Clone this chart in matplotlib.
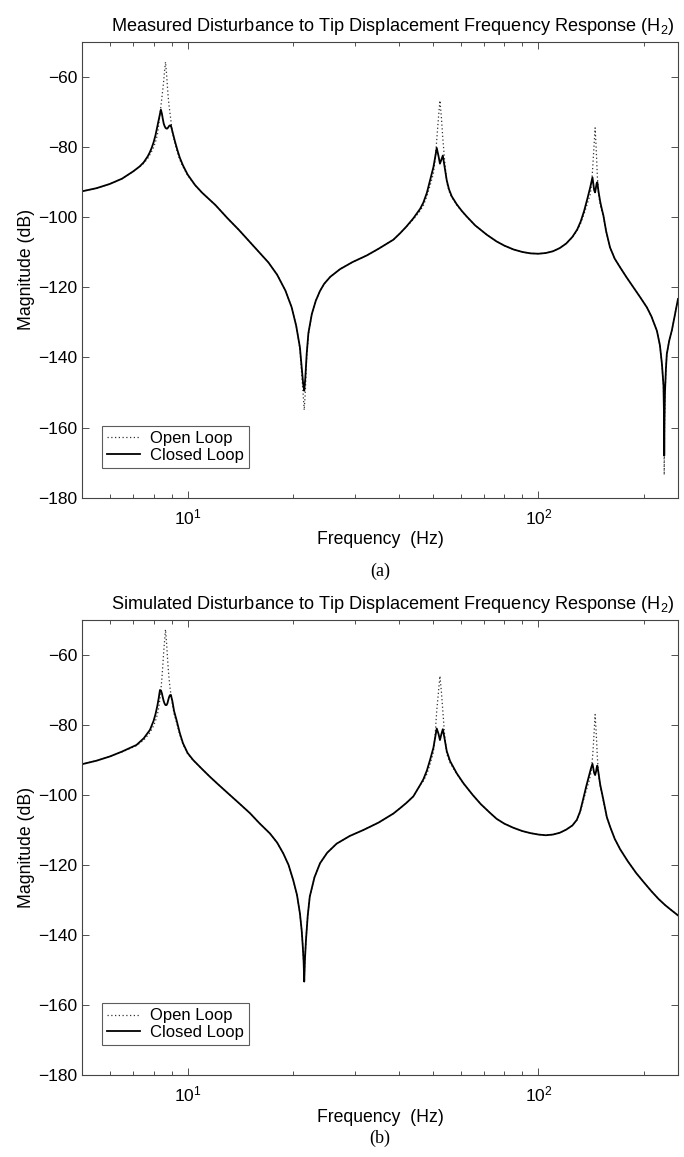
import numpy as np
import matplotlib
matplotlib.use("Agg")
import matplotlib.pyplot as plt
from matplotlib.ticker import LogLocator, FuncFormatter

plt.rcParams['font.family'] = ['Liberation Sans', 'DejaVu Sans']
plt.rcParams['mathtext.fontset'] = 'custom'
plt.rcParams['mathtext.rm'] = 'Liberation Sans'
plt.rcParams['mathtext.it'] = 'Liberation Sans:italic'
plt.rcParams['mathtext.bf'] = 'Liberation Sans:bold'

# ---------------- (a) measured ----------------
freq_a = [5.0, 5.5, 6.0, 6.5, 7.0, 7.3, 7.5, 7.7, 7.8, 7.9, 8.0, 8.1, 8.2, 8.3,
          8.39, 8.45, 8.5, 8.55, 8.6, 8.65, 8.7, 8.75, 8.8, 8.85, 8.9, 8.96, 9.05,
          9.2, 9.35, 9.5, 9.7, 10.0, 10.5, 11.0, 11.5, 12.0, 13.0, 14.0, 15.0, 16.0,
          17.0, 18.0, 19.0, 19.8, 20.4, 20.9, 21.2,
          21.35, 21.5, 21.65, 21.85, 22.1, 22.6, 23.2, 23.85, 24.5, 25.5, 27.2, 29.5,
          32.4, 35.0, 38.6,
          40.3, 42.0, 44.0, 46.0, 47.0, 48.1, 49.1, 50.2, 50.8, 51.3, 51.9, 52.4, 52.9,
          53.4, 54.0, 54.8, 55.6, 56.6,
          58.5, 60.5, 62.5, 66.0, 71.3, 76.0, 80.0, 85.0, 90.0, 95.0, 100.0, 105.0,
          110.0, 115.0, 120.0, 125.0, 129.0, 132.0, 135.0, 138.0, 140.5,
          141.6, 142.6, 143.4, 144.2, 145.1, 146.0, 146.6, 147.2, 148.3, 150.0,
          151.5, 153.2, 156.0, 160.0, 165.0, 171.0, 178.0, 186.6, 195.0, 203.8, 210.0,
          217.7, 222.0, 225.0, 227.3, 228.0, 228.4, 228.8, 229.5, 231.0, 232.3, 236.0,
          240.2, 245.0, 250.0]
closed_a = [-92.6, -91.7, -90.5, -89.0, -86.9, -85.5, -84.3, -82.6, -81.5, -80.2,
            -78.6, -76.6, -74.0, -71.3,
            -69.3, -70.5, -72.0, -73.3, -74.0, -74.5, -74.7, -74.7, -74.4, -74.0,
            -73.8, -73.8, -75.5,
            -78.3, -80.8, -83.0, -85.2, -87.8, -90.8, -93.0, -94.8, -96.5, -100.3,
            -103.6, -106.9, -110.0, -112.9, -116.4, -120.9, -125.7, -131.0, -137.1,
            -144.0,
            -147.5, -149.5, -146.0, -139.0, -133.0, -127.6, -123.8, -121.0, -119.0,
            -117.0, -114.8, -112.8, -110.9, -109.0, -106.4,
            -104.6, -102.7, -100.3, -97.6, -95.8, -93.0, -89.5, -85.7, -82.8, -80.2,
            -82.5, -84.7, -83.5, -82.4, -85.5, -89.5, -92.0, -94.0,
            -96.3, -98.2, -99.8, -102.3, -105.0, -106.9, -108.1, -109.2, -109.9,
            -110.3, -110.4, -110.2, -109.7, -108.8, -107.5, -105.6, -103.5, -101.2,
            -98.2, -94.6, -91.5,
            -90.0, -88.6, -90.5, -92.3, -92.9, -91.3, -90.3, -90.0, -92.5, -95.5,
            -97.5, -99.5, -104.0, -108.6, -111.8, -114.3, -117.0, -120.0, -122.8,
            -125.7, -128.3, -132.4, -136.5, -141.9, -148.0, -156.0, -168.0, -158.0,
            -150.0, -143.0, -139.0, -135.2, -132.2, -127.8, -123.3]
open_a = [-92.6, -91.7, -90.5, -89.0, -86.9, -85.6, -84.6, -83.2, -82.2, -81.2,
          -80.0, -78.5, -76.5, -72.5,
          -68.5, -66.0, -63.5, -61.0, -58.0, -55.7, -58.5, -62.0, -65.5, -68.0,
          -70.0, -72.5, -75.8,
          -78.8, -81.5, -83.6, -85.6, -88.0, -90.9, -93.0, -94.8, -96.5, -100.3,
          -103.6, -106.9, -110.0, -112.9, -116.4, -120.9, -125.7, -131.0, -137.5,
          -146.0,
          -150.5, -155.0, -150.0, -140.0, -133.5, -127.6, -123.8, -121.0, -119.0,
          -117.0, -114.8, -112.8, -110.9, -109.0, -106.4,
          -104.6, -102.8, -100.6, -98.2, -96.6, -94.0, -91.0, -87.5, -83.5, -78.0,
          -71.5, -66.7, -71.5, -77.5, -83.5, -90.0, -92.5, -94.3,
          -96.5, -98.3, -99.9, -102.3, -105.0, -106.9, -108.1, -109.2, -109.9,
          -110.3, -110.4, -110.2, -109.7, -108.8, -107.5, -105.7, -103.8, -101.7,
          -99.0, -96.0, -93.5,
          -91.0, -87.0, -83.0, -79.0, -74.5, -79.5, -83.5, -88.0, -93.0, -96.5,
          -98.0, -99.8, -104.0, -108.6, -111.8, -114.3, -117.0, -120.0, -122.8,
          -125.7, -128.3, -132.4, -136.5, -142.0, -148.5, -158.0, -173.5, -160.0,
          -151.0, -143.5, -139.0, -135.2, -132.2, -127.8, -123.3]

# ---------------- (b) simulated ----------------
freq_b = [5.0, 5.5, 6.0, 6.5, 7.15, 7.5, 7.81, 8.0, 8.1, 8.2, 8.27,
          8.34, 8.4, 8.45, 8.5, 8.55, 8.6, 8.65, 8.71, 8.76, 8.8, 8.85, 8.9, 8.96, 9.05,
          9.15, 9.3, 9.5, 9.7, 10.0, 10.37, 11.0, 11.58, 12.2, 12.9, 14.0, 15.06, 16.0,
          17.17, 18.0, 18.74, 19.4, 20.0, 20.5, 20.9, 21.15, 21.3, 21.42,
          21.5, 21.6, 21.75, 22.0, 22.3, 23.0, 23.85, 25.0, 26.6, 29.0, 31.7, 35.0,
          38.6, 40.3, 42.0, 44.0, 46.1,
          47.0, 48.1, 49.1, 50.2, 50.8, 51.3, 51.9, 52.4, 52.9, 53.4, 54.0, 54.8, 56.0,
          58.5, 61.2, 65.0, 68.5, 72.6, 76.0, 80.0, 85.0, 90.0, 95.0, 100.0, 105.0,
          110.0, 115.0, 120.0, 125.0, 128.7, 131.5, 134.0, 137.0, 139.5, 141.3,
          142.6, 143.4, 144.2, 145.1, 146.0, 146.6, 147.2, 148.3, 150.0,
          153.2, 156.7, 160.0, 165.0, 171.0, 180.0, 190.0, 200.0, 210.0, 220.0, 230.0,
          240.0, 250.0]
closed_b = [-91.2, -90.2, -89.0, -87.6, -85.7, -83.8, -81.4, -78.8, -76.9, -74.5, -72.4,
            -70.0, -70.2, -71.0, -72.2, -73.2, -73.9, -74.3, -74.3, -73.8, -73.0,
            -72.1, -71.5, -71.4, -73.2,
            -76.0, -78.6, -82.3, -85.2, -88.0, -90.0, -92.6, -94.8, -96.9, -99.1,
            -102.3, -105.2, -108.0, -111.0, -113.6, -116.7, -120.0, -124.3, -128.5,
            -133.8, -138.8, -143.3, -147.8,
            -153.3, -147.0, -141.4, -134.5, -129.0, -123.5, -119.5, -116.5, -113.9,
            -111.7, -110.0, -107.9, -105.3, -103.8, -102.3, -100.4, -97.0,
            -95.5, -93.0, -90.0, -86.5, -83.5, -81.0, -82.5, -84.3, -82.6, -81.2,
            -83.8, -87.5, -90.3,
            -93.8, -96.7, -100.0, -102.6, -105.0, -106.8, -108.2, -109.4, -110.3,
            -110.9, -111.3, -111.5, -111.3, -110.8, -109.9, -108.7, -107.1, -104.7,
            -101.4, -97.4, -94.4, -92.3,
            -91.1, -92.4, -93.7, -94.3, -93.3, -92.2, -91.6, -93.6, -97.0,
            -101.4, -106.3, -109.0, -112.5, -115.5, -119.0, -122.3, -125.0, -127.5,
            -129.7, -131.5, -133.0, -134.4]
open_b = [-91.2, -90.2, -89.0, -87.7, -85.9, -84.3, -82.2, -80.2, -78.8, -77.0, -75.2,
          -72.5, -69.5, -66.5, -62.8, -59.0, -55.8, -52.7, -56.5, -60.5, -63.5,
          -66.5, -69.0, -71.2, -74.0,
          -76.8, -79.3, -82.8, -85.5, -88.2, -90.1, -92.6, -94.8, -96.9, -99.1,
          -102.3, -105.2, -108.0, -111.0, -113.6, -116.7, -120.0, -124.3, -128.5,
          -133.8, -138.8, -143.3, -147.8,
          -153.3, -147.0, -141.4, -134.5, -129.0, -123.5, -119.5, -116.5, -113.9,
          -111.7, -110.0, -107.9, -105.3, -103.8, -102.3, -100.4, -97.0,
          -96.0, -94.0, -91.2, -87.8, -82.5, -76.0, -70.5, -66.0, -70.5, -76.0,
          -82.5, -88.3, -90.8,
          -94.0, -96.8, -100.0, -102.6, -105.0, -106.8, -108.2, -109.4, -110.3,
          -110.9, -111.3, -111.5, -111.3, -110.8, -109.9, -108.7, -107.2, -105.0,
          -102.0, -98.6, -96.0, -93.5,
          -89.5, -86.0, -81.8, -77.0, -81.5, -85.0, -89.0, -93.8, -97.5,
          -101.8, -106.5, -109.0, -112.5, -115.5, -119.0, -122.3, -125.0, -127.5,
          -129.7, -131.5, -133.0, -134.4]

titles = ["Measured Disturbance to Tip Displacement Frequency Response (H$_2$)",
          "Simulated Disturbance to Tip Displacement Frequency Response (H$_2$)"]
panel_labels = ["(a)", "(b)"]
yticks = [-180, -160, -140, -120, -100, -80, -60]
series_names = ["Open Loop", "Closed Loop"]

W, H = 684, 1157
fig = plt.figure(figsize=(W / 100, H / 100), dpi=100)

boxes = [(82, 42, 678, 497.7), (82, 620, 678, 1075)]
label_offsets = [74, 63]
data = [(freq_a, open_a, closed_a), (freq_b, open_b, closed_b)]

for i, ((x0, y0, x1, y1), (f, op, cl)) in enumerate(zip(boxes, data)):
    ax = fig.add_axes([x0 / W, 1 - y1 / H, (x1 - x0) / W, (y1 - y0) / H])
    ax.semilogx(f, op, linestyle=(0, (1, 2)), color='#333333', lw=0.9, label=series_names[0])
    ax.semilogx(f, cl, '-', color='black', lw=1.3, label=series_names[1])
    ax.set_xlim(5, 250)
    ax.set_ylim(-180, -50)
    ax.set_yticks(yticks)
    ax.yaxis.set_major_formatter(FuncFormatter(
        lambda v, p: '\u2212%d' % abs(int(v)) if v < 0 else '%d' % v))
    ax.xaxis.set_major_locator(LogLocator(base=10, numticks=10))
    ax.xaxis.set_minor_locator(LogLocator(base=10, subs=np.arange(2, 10), numticks=10))
    ax.tick_params(which='both', direction='in', top=True, right=True,
                   labelsize=12.5, width=0.6, color='#333333')
    ax.tick_params(which='major', length=5)
    ax.tick_params(which='minor', length=3)
    ax.tick_params(axis='x', which='major', pad=7)
    for s in ax.spines.values():
        s.set_linewidth(0.8)
        s.set_color('#444444')
    ax.set_title(titles[i], fontsize=13.1, pad=8, x=0.521)
    ax.set_xlabel('Frequency  (Hz)', fontsize=12.7, labelpad=3)
    ax.set_ylabel('Magnitude (dB)', fontsize=12.7, labelpad=2)
    leg = ax.legend(loc='lower left', bbox_to_anchor=(20 / 596, 30 / 455), borderaxespad=0,
                    fontsize=12, frameon=True, fancybox=False, handlelength=2.0,
                    handletextpad=0.6, borderpad=0.3, labelspacing=0.1)
    leg.get_frame().set_edgecolor('#333333')
    leg.get_frame().set_linewidth(0.8)
    fig.text((x0 + x1) / 2 / W, 1 - (y1 + label_offsets[i]) / H, panel_labels[i],
             ha='center', va='center', fontsize=13,
             family=['Liberation Serif', 'DejaVu Serif'])

fig.savefig('out.png', dpi=100)
